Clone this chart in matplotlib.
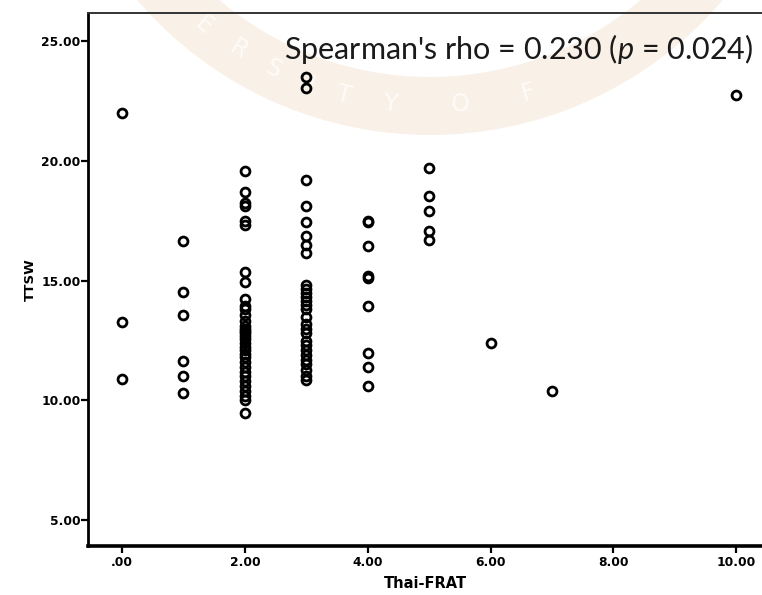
import numpy as np
import matplotlib
matplotlib.use("Agg")
import matplotlib.pyplot as plt
from matplotlib.patches import Wedge
from matplotlib.transforms import IdentityTransform

# ---- data (TTSW values at each Thai-FRAT score) ----
ttsw_frat0 = [21.98, 13.27, 10.90]
ttsw_frat1 = [16.66, 14.51, 13.55, 11.66, 11.03, 10.30]
ttsw_frat2 = [19.57, 18.70, 18.24, 18.10, 17.50, 17.30, 15.35, 14.95, 14.23, 13.95,
              13.80, 13.55, 13.30, 13.10, 13.00, 12.90, 12.80, 12.70, 12.55, 12.40,
              12.25, 12.10, 11.95, 11.80, 11.60, 11.40, 11.20, 11.00, 10.80, 10.60,
              10.40, 10.20, 10.00, 9.46]
ttsw_frat3 = [23.47, 23.03, 19.20, 18.10, 17.45, 16.85, 16.50, 16.15, 14.80, 14.65,
              14.50, 14.30, 14.15, 14.00, 13.80, 13.50, 13.20, 13.00, 12.80, 12.50,
              12.30, 12.10, 11.90, 11.70, 11.50, 11.25, 11.00, 10.85]
ttsw_frat4 = [17.50, 17.45, 16.45, 15.19, 15.12, 13.95, 12.00, 11.38, 10.60]
ttsw_frat5 = [19.70, 18.52, 17.90, 17.06, 16.69]
ttsw_frat6 = [12.41]
ttsw_frat7 = [10.40]
ttsw_frat10 = [22.74]

frat_levels = [0, 1, 2, 3, 4, 5, 6, 7, 10]
ttsw_groups = [ttsw_frat0, ttsw_frat1, ttsw_frat2, ttsw_frat3, ttsw_frat4,
               ttsw_frat5, ttsw_frat6, ttsw_frat7, ttsw_frat10]

x_ticks = [0, 2, 4, 6, 8, 10]
x_ticklabels = [".00", "2.00", "4.00", "6.00", "8.00", "10.00"]
y_ticks = [5, 10, 15, 20, 25]
y_ticklabels = ["5.00", "10.00", "15.00", "20.00", "25.00"]

annotation = "Spearman's rho = 0.230 ($\\mathit{p}$ = 0.024)"

# ---- figure ----
plt.rcParams['mathtext.fontset'] = 'custom'
plt.rcParams['mathtext.rm'] = 'Lato'
plt.rcParams['mathtext.it'] = 'Lato:italic'

W, H = 762, 595
fig = plt.figure(figsize=(W / 100, H / 100), dpi=100)

# faint watermark ring (background decoration)
ring = Wedge((430, H + 250), 385, 180, 360, width=58, transform=IdentityTransform(),
             facecolor=(0.975, 0.94, 0.905), edgecolor='none', zorder=-10)
fig.patches.append(ring)
for ch, ang in zip("ERSITY OF", [230.6, 237.4, 243.8, 250.3, 256.0, 263.5, 0, 274.9, 286.0]):
    if ch == " ":
        continue
    r = 356
    px = 430 + r * np.cos(np.radians(ang))
    py = H + 250 + r * np.sin(np.radians(ang))
    fig.text(px / W, py / H, ch, rotation=ang + 90, ha='center', va='center',
             fontsize=17, color=(0.995, 0.985, 0.975), zorder=-9,
             rotation_mode='anchor')

ax = fig.add_axes([88 / W, 1 - 546 / H, (762 - 88) / W, (546 - 13) / H])
ax.patch.set_alpha(0)

xs = []
ys = []
for lvl, grp in zip(frat_levels, ttsw_groups):
    xs.extend([lvl] * len(grp))
    ys.extend(grp)

ax.plot(xs, ys, linestyle='none', marker='o', markersize=6.4,
        markerfacecolor='none', markeredgecolor='black', markeredgewidth=2.0)

ax.set_xlim(-0.554, 10.42)
ax.set_ylim(3.93, 26.16)

ax.set_xticks(x_ticks)
ax.set_xticklabels(x_ticklabels)
ax.set_yticks(y_ticks)
ax.set_yticklabels(y_ticklabels)

for lab in ax.get_xticklabels() + ax.get_yticklabels():
    lab.set_fontweight('bold')
    lab.set_fontsize(8.8)
    lab.set_family('DejaVu Sans')

ax.tick_params(axis='both', direction='out', length=5, width=1.6, color='black')
ax.tick_params(axis='y', pad=0.5)
ax.tick_params(axis='x', pad=2)

ax.spines['left'].set_linewidth(2.0)
ax.spines['bottom'].set_linewidth(2.6)
ax.spines['top'].set_linewidth(1.4)
ax.spines['top'].set_color('#333333')
ax.spines['right'].set_visible(False)

ax.set_xlabel("Thai-FRAT", fontweight='bold', fontsize=10.5, labelpad=5)
ax.set_ylabel("TTSW", fontweight='bold', fontsize=9.5, labelpad=3)

fig.text(519 / W, 1 - 59 / H, annotation, ha='center', va='baseline',
         fontsize=22, color='#1a1a1a', family='Lato')

fig.savefig("out.png", dpi=100)
